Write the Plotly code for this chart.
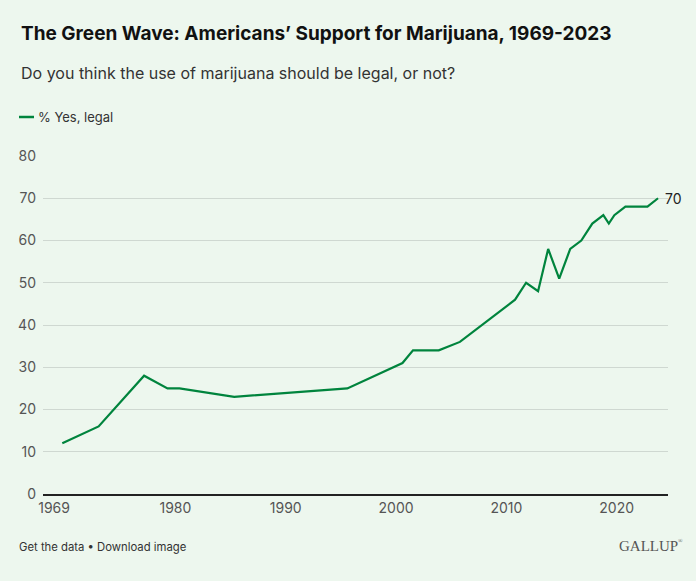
import plotly.graph_objects as go

# ---- data ----
dates = ["1969-10-01", "1972-04-01", "1973-01-15", "1977-03-01", "1979-04-15", "1980-05-15",
         "1985-05-01", "1995-08-01", "2000-08-01", "2001-07-15", "2003-11-15", "2005-10-15",
         "2009-10-15", "2010-10-15", "2011-10-15", "2012-11-15", "2013-10-15", "2014-10-15",
         "2015-10-15", "2016-10-15", "2017-10-15", "2018-10-15", "2019-04-15", "2019-10-15",
         "2020-10-15", "2021-10-15", "2022-10-15", "2023-10-01"]
yes_legal = [12, 15, 16, 28, 25, 25, 23, 25, 31, 34, 34, 36, 44, 46, 50, 48, 58, 51,
             58, 60, 64, 66, 64, 66, 68, 68, 68, 70]
series_name = "% Yes, legal"
x_tick_vals = ["1969-01-01", "1980-01-01", "1990-01-01", "2000-01-01", "2010-01-01", "2020-01-01"]
x_tick_text = ["1969", "1980", "1990", "2000", "2010", "2020"]
y_ticks = [0, 10, 20, 30, 40, 50, 60, 70, 80]

title = "The Green Wave: Americans’ Support for Marijuana, 1969-2023"
subtitle = "Do you think the use of marijuana should be legal, or not?"
footer = "Get the data • Download image"
brand = "GALLUP"

# ---- style ----
W, H = 696, 581
BG = "#EDF7EE"
GREEN = "#00843D"
FONT = "Inter, Roboto, sans-serif"
SERIF = "Liberation Serif, DejaVu Serif, serif"
ML, MR, MT, MB = 43, 28, 156, 87
PW, PH = W - ML - MR, H - MT - MB


def px(x):
    return (x - ML) / PW


def py(y):
    return (H - MB - y) / PH


fig = go.Figure()
fig.add_trace(go.Scatter(
    x=dates, y=yes_legal, mode="lines", name=series_name,
    line=dict(color=GREEN, width=2.2), showlegend=False,
    hoverinfo="x+y",
))

annotations = [
    dict(text=f"<b>{title}</b>", x=px(19), y=py(34), xanchor="left", yanchor="middle",
         font=dict(size=19, color="#111111", family=FONT)),
    dict(text=subtitle, x=px(19), y=py(73), xanchor="left", yanchor="middle",
         font=dict(size=16, color="#333333", family=FONT)),
    dict(text=series_name, x=px(36), y=py(117), xanchor="left", yanchor="middle",
         font=dict(size=13, color="#333333", family=FONT)),
    dict(text=footer, x=px(17), y=py(547), xanchor="left", yanchor="middle",
         font=dict(size=11.3, color="#333333", family=FONT)),
    dict(text=brand, x=px(680), y=py(546),
         xanchor="right", yanchor="middle",
         font=dict(size=15, color="#555555", family=SERIF)),
    dict(text="®", x=px(676), y=py(541),
         xanchor="left", yanchor="middle",
         font=dict(size=6, color="#555555", family=SERIF)),
]
annotations = [dict(a, xref="paper", yref="paper", showarrow=False) for a in annotations]
annotations.append(dict(
    x=dates[-1], y=yes_legal[-1], xref="x", yref="y", text=str(yes_legal[-1]),
    showarrow=False, xanchor="left", yanchor="middle", xshift=5,
    font=dict(size=14, color="#222222", family=FONT),
))

fig.update_layout(
    width=W, height=H,
    margin=dict(l=ML, r=MR, t=MT, b=MB),
    paper_bgcolor=BG, plot_bgcolor=BG,
    annotations=annotations,
    shapes=[dict(type="line", xref="paper", yref="paper",
                 x0=px(19), x1=px(34), y0=py(117), y1=py(117),
                 line=dict(color=GREEN, width=2.5))],
    xaxis=dict(
        type="date", range=["1968-01-01", "2024-08-25"],
        tickvals=x_tick_vals, ticktext=x_tick_text,
        showgrid=False, zeroline=False,
        showline=True, linecolor="#222222", linewidth=1.5,
        ticks="", tickfont=dict(size=14, color="#555555", family=FONT),
    ),
    yaxis=dict(
        range=[0, 80], tickvals=y_ticks,
        showgrid=True, gridcolor="#CFD8D1", gridwidth=1,
        zeroline=False, showline=False, ticks="",
        ticklabelstandoff=6,
        tickfont=dict(size=14, color="#555555", family=FONT),
    ),
    hovermode="x",
)

fig.write_html("out.html")
